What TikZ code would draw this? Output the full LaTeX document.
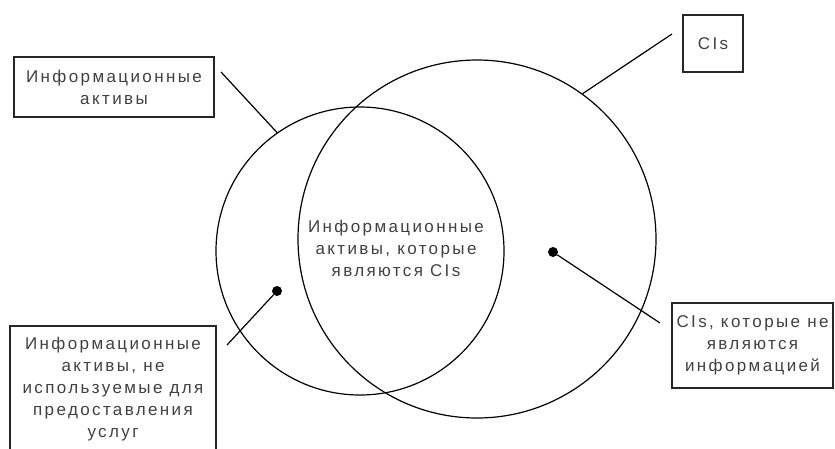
\documentclass[tikz,border=0pt]{standalone}
\usepackage{fontspec}
\setmainfont{Liberation Sans}[LetterSpace=14]
\begin{document}
\begin{tikzpicture}[x=1pt, y=-1pt,
        every node/.style={font=\fontsize{17}{22}\selectfont, text=black!75},
        label box/.style={draw=black!85, line width=1.6pt, align=center, inner sep=0pt},
        set/.style={draw=black, circle, line width=1.2pt, inner sep=0pt},
        dot/.style={circle, fill=black, inner sep=0pt, minimum size=10pt},
        pointer/.style={line width=1.2pt}]
        \useasboundingbox (0,0) rectangle (835,448);

        % the two sets
        \node[set, minimum size=288pt] (assets) at (360,251) {};
        \node[set, minimum size=358pt] (cis) at (477,239) {};
        \node[align=center] (both) at (396,248) {Информационные\\активы, которые\\являются CIs};

        % points inside the sets
        \node[dot] (pa) at (277,291) {};
        \node[dot] (pc) at (553,252) {};

        % labels
        \node[label box, minimum width=200pt, minimum height=60pt] (assetsbox) at (114,87) {Информационные\\активы};
        \node[label box, minimum width=60pt, minimum height=57pt] (cisbox) at (713,43.5) {CIs};
        \node[label box, minimum width=161pt, minimum height=85pt] (cisonly) at (752.5,345.5) {CIs, которые не\\являются\\информацией};
        \node[label box, anchor=north, minimum width=206pt, minimum height=127pt] (assetsonly) at (113,325) {Информационные\\активы, не\\используемые для\\предоставления\\услуг};

        % pointers
        \coordinate (assetstip) at (221,72);
        \coordinate (cistip) at (672,34);
        \coordinate (cisonlytip) at (660,323);
        \coordinate (assetsonlytip) at (227,345);
        \draw[pointer] (assetstip) -- (assets.125);
        \draw[pointer] (cis.54) -- (cistip);
        \draw[pointer] (pc) -- (cisonlytip);
        \draw[pointer] (pa) -- (assetsonlytip);
\end{tikzpicture}
\end{document}
